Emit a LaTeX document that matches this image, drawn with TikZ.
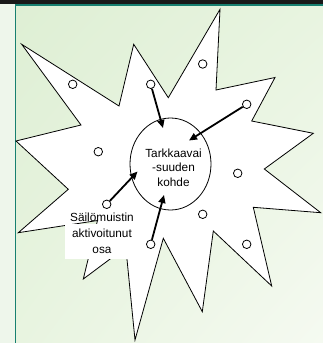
\documentclass[tikz,border=0pt]{standalone}
\usepackage{fontspec}
\setmainfont{Liberation Sans}
\usetikzlibrary{arrows.meta,shadings}
\definecolor{teal1}{RGB}{24,128,112}
\definecolor{bgA}{RGB}{222,239,212}
\definecolor{bgB}{RGB}{232,244,224}
\definecolor{bgC}{RGB}{245,250,241}
\definecolor{strip}{RGB}{238,246,235}
\tikzset{
  dot/.style={circle,draw,fill=white,inner sep=0pt,minimum size=8.5pt,line width=0.8pt},
  arr/.style={line width=1.8pt,-{Triangle[length=8pt,width=7pt]}},
  lbl/.style={align=center,font=\fontsize{11.8}{14.5}\selectfont,inner sep=0pt},
  starline/.style={draw=black,fill=white,line width=0.8pt,line join=miter}
}
\begin{document}
\begin{tikzpicture}[x=1pt,y=-1pt]
\useasboundingbox (0,0) rectangle (323,343);
% background
\fill[strip] (0,0) rectangle (15,343);
\shade[upper left=bgA,upper right=bgB,lower left=bgB,lower right=bgC] (15,4) rectangle (323,343);
\fill[black!90] (0,0) rectangle (323,4);
\fill[teal1] (15,4) rectangle (323,5.6);
\fill[teal1] (14.6,4) rectangle (16.2,343);
% star
\draw[starline] (21.7,44.3) -- (119,106) -- (133.7,44.3) -- (168.3,97.7) -- (220,9.3)
  -- (216,90) -- (275,77.5) -- (251.7,121) -- (313.3,133.3) -- (264.3,169)
  -- (320.7,212.7) -- (253.3,207.3) -- (271.7,286) -- (213.3,231) -- (202.3,311.7)
  -- (163.3,238.3) -- (135,340) -- (125.8,247.3) -- (83.3,279) -- (97.5,220.5)
  -- (18.3,232.7) -- (68.3,189.3) -- (16,141) -- (81,125) -- cycle;
% focus ellipse
\draw[line width=0.8pt] (170.5,164) ellipse [x radius=40.5,y radius=46];
\node[lbl] (focus) at (173.5,167.5) {Tarkkaavai\\-suuden\\kohde};
% label box
\fill[white] (65,223.5) rectangle (139,259);
\node[lbl,font=\fontsize{11.8}{16}\selectfont] (ltm) at (102,233) {Säilömuistin\\aktivoitunut\\osa};
% small circles
\node[dot] (d1) at (72.7,84.3) {};
\node[dot] (d2) at (150.7,84.3) {};
\node[dot] (d3) at (202.7,64) {};
\node[dot] (d4) at (246.7,104.3) {};
\node[dot] (d5) at (98.3,151.7) {};
\node[dot] (d6) at (237.7,173.3) {};
\node[dot] (d7) at (106.7,204.3) {};
\node[dot] (d8) at (202.7,214.3) {};
\node[dot] (d9) at (150.7,244.3) {};
\node[dot] (d10) at (246.7,244.3) {};
% arrow targets
\coordinate (t2) at (163,128);
\coordinate (t4) at (189,140.5);
\coordinate (t7) at (137.5,171.5);
\coordinate (t9) at (164,195);
\draw[arr] (d2) -- (t2);
\draw[arr] (d4) -- (t4);
\draw[arr] (d7) -- (t7);
\draw[arr] (d9) -- (t9);
\end{tikzpicture}
\end{document}
